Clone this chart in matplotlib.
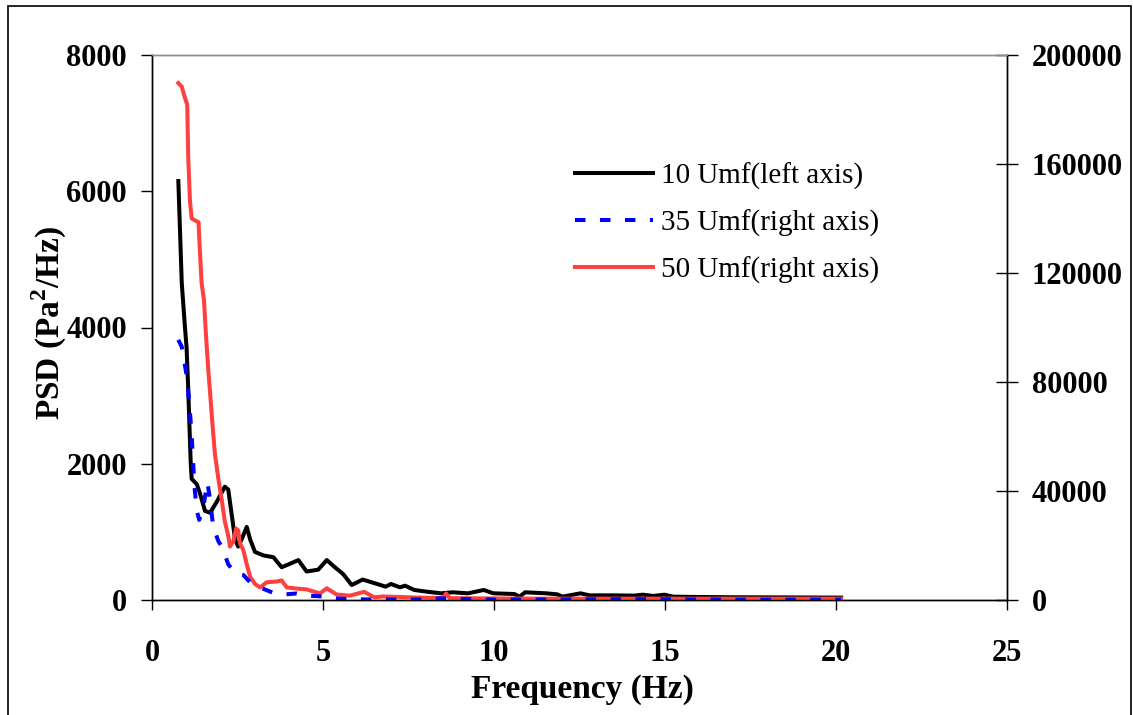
import matplotlib

matplotlib.use("Agg")
import matplotlib.pyplot as plt
from matplotlib.patches import Rectangle

plt.rcParams["font.family"] = ["Liberation Serif", "DejaVu Serif"]
plt.rcParams["mathtext.fontset"] = "custom"
plt.rcParams["mathtext.rm"] = "Liberation Serif"
plt.rcParams["mathtext.bf"] = "Liberation Serif:bold"

# 10 Umf, left axis
black_f = [0.77, 0.87, 0.96, 1.01, 1.06, 1.13, 1.16, 1.31, 1.40, 1.55, 1.70, 1.89,
           2.13, 2.23, 2.33, 2.43, 2.52, 2.62, 2.77, 2.87, 3.01, 3.26, 3.55, 3.79,
           4.04, 4.28, 4.52, 4.86, 5.11, 5.35, 5.59, 5.84, 6.16, 6.52, 6.83, 6.99,
           7.25, 7.40, 7.67, 8.04, 8.45, 8.79, 9.24, 9.70, 9.98, 10.59, 10.75,
           10.91, 11.53, 11.85, 12.0, 12.53, 12.79, 13.52, 14.1, 14.35, 14.66,
           14.98, 15.24, 15.8, 17.0, 18.5, 20.15]
black_p = [6150, 4655, 4027, 3713, 3086, 2040, 1778, 1700, 1569, 1307, 1281, 1438,
           1663, 1621, 1255, 889, 784, 889, 1072, 889, 706, 654, 628, 481,
           533, 586, 418, 445, 586, 480, 380, 220, 300, 245, 196, 235,
           186, 210, 147, 122, 98, 113, 98, 147, 98, 88, 49,
           113, 98, 83, 49, 98, 68, 68, 64, 78, 59,
           78, 49, 45, 40, 38, 35]

# 35 Umf, right axis
blue_f = [0.77, 0.87, 0.96, 1.03, 1.09, 1.14, 1.19, 1.24, 1.31, 1.38, 1.50, 1.62,
          1.70, 1.79, 1.94, 2.04, 2.23, 2.43, 2.67, 2.87, 3.16, 3.55, 3.84, 4.23,
          4.52, 5.01, 5.30, 5.79, 6.5, 8.0, 8.4, 10.0, 12.0, 14.5, 17.0, 20.15]
blue_p = [95500, 92900, 86300, 81100, 71900, 64100, 53600, 41900, 32700, 29400,
          34000, 43200, 36600, 26800, 21600, 19600, 13100, 9800, 9200, 6500, 4600,
          2600, 2000, 2400, 1600, 1300, 650, 260, 200, 200, 600, 150, 200, 300,
          100, 100]

# 50 Umf, right axis
red_f = [0.77, 0.87, 0.96, 1.03, 1.06, 1.11, 1.16, 1.36, 1.40, 1.45, 1.52, 1.58,
         1.65, 1.70, 1.77, 1.84, 1.94, 2.04, 2.13, 2.23, 2.28, 2.38, 2.46, 2.52,
         2.57, 2.67, 2.77, 2.87, 3.01, 3.16, 3.35, 3.65, 3.79, 3.94, 4.23, 4.52,
         4.91, 5.11, 5.40, 5.79, 6.2, 6.5, 6.76, 7.74, 8.5, 8.6, 8.7, 9.5, 11.0,
         13.0, 15.0, 17.5, 20.15]
red_p = [189700, 188400, 184400, 181800, 162200, 146500, 140000, 138600, 128200,
         116400, 109900, 96800, 83700, 75900, 64100, 53600, 44500, 36600, 28800,
         23500, 19600, 21600, 26200, 25500, 20900, 18300, 13100, 8500, 5900, 4600,
         6500, 6800, 7200, 4600, 4200, 3900, 2400, 4300, 2000, 1600, 3000, 1000,
         1300, 900, 700, 2400, 700, 600, 500, 500, 500, 500, 500]

x_ticks = [0, 5, 10, 15, 20, 25]
left_ticks = [0, 2000, 4000, 6000, 8000]
right_ticks = [0, 40000, 80000, 120000, 160000, 200000]

fig = plt.figure(figsize=(11.33, 7.15), dpi=100)
ax = fig.add_axes([152 / 1133, 1 - 600 / 715, 855 / 1133, 545 / 715])
ax2 = ax.twinx()

l1, = ax.plot(black_f, black_p, color="black", lw=2.9,
              label="10 Umf(left axis)", solid_joinstyle="round")
l3, = ax2.plot(red_f, red_p, color="#ff4040", lw=2.9,
               label="50 Umf(right axis)")
l2, = ax2.plot(blue_f, blue_p, color="#0000ff", lw=2.9, dashes=(2.6, 3.6),
               label="35 Umf(right axis)")

ax.set_xlim(0, 25)
ax.set_ylim(0, 8000)
ax2.set_ylim(0, 200000)
ax.set_xticks(x_ticks)
ax.set_yticks(left_ticks)
ax2.set_yticks(right_ticks)

for a in (ax, ax2):
    a.spines["top"].set_color("#8c8c8c")
    a.spines["left"].set_color("black")
    a.spines["right"].set_color("black")
    a.spines["bottom"].set_color("black")
    for s in a.spines.values():
        s.set_linewidth(1.0)

ax.tick_params(axis="y", direction="out", length=8, width=1, pad=10,
               labelsize=22)
ax.tick_params(axis="x", direction="out", length=7, width=1, pad=21,
               labelsize=22)
ax2.tick_params(axis="y", direction="inout", length=16, width=1, pad=10,
                labelsize=22)
for lab in ax.get_xticklabels() + ax.get_yticklabels() + ax2.get_yticklabels():
    lab.set_fontweight("bold")

ax.set_xlabel("Frequency (Hz)", fontsize=24, fontweight="bold")
ax.xaxis.set_label_coords(0.503, -0.136)
ax.set_ylabel(r"PSD (Pa$^{\mathbf{2}}$/Hz)", fontsize=24, fontweight="bold")
ax.yaxis.set_label_coords(-0.097, 0.508)

ax2.legend(handles=[l1, l2, l3], loc="upper left",
           bbox_to_anchor=(0.495, 0.803), frameon=False, fontsize=21,
           handlelength=2.65, handletextpad=0.3, labelspacing=0.68,
           borderpad=0, borderaxespad=0)

# outer chart border
fig.patches.append(Rectangle((8 / 1133, -0.02), 1123 / 1133, 1.02 - 6 / 715,
                             transform=fig.transFigure, fill=False,
                             edgecolor="black", lw=1.2))

fig.savefig("out.png", dpi=100)
